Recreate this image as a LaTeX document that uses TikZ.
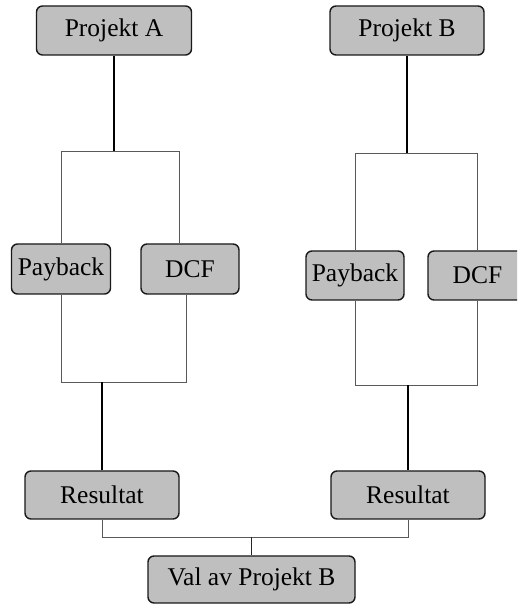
\documentclass[tikz,border=0pt]{standalone}
\usepackage{fontspec}
\setmainfont{Liberation Serif}
\newfontfamily\boxfont{Liberation Serif}
\begin{document}
\begin{tikzpicture}[x=1pt,y=1pt,
  box/.style={draw=black!90, line width=1.4pt, fill=black!25, rounded corners=6pt,
    inner sep=0pt, font=\boxfont\fontsize{25.5}{29}\selectfont, text=black},
  trunk/.style={draw=black, line width=1.5pt},
  branch/.style={draw=black!65, line width=0.9pt}]
\clip (0,0) rectangle (517,604);
\useasboundingbox (0,0) rectangle (517,604);

% boxes
\node[box, minimum width=155pt, minimum height=49pt] (projA) at (114,573.5) {Projekt A};
\node[box, minimum width=154pt, minimum height=49pt] (projB) at (407,573.5) {Projekt B};
\node[box, minimum width=99pt, minimum height=50pt] (payA) at (61,335) {Payback};
\node[box, minimum width=98pt, minimum height=50pt] (dcfA) at (190,335) {DCF};
\node[box, minimum width=98pt, minimum height=49pt] (payB) at (355,328.5) {Payback};
\node[box, minimum width=99pt, minimum height=49pt] (dcfB) at (477.5,328.5) {DCF};
\node[box, minimum width=154pt, minimum height=48pt] (resA) at (102,109) {Resultat};
\node[box, minimum width=154pt, minimum height=48pt] (resB) at (408,109) {Resultat};
\node[box, minimum width=207pt, minimum height=47pt] (val) at (251.5,24.5) {Val av Projekt B};

% junction points
\coordinate (jA) at (114,453);
\coordinate (jAl) at (61,453);
\coordinate (jAr) at (179,453);
\coordinate (kAl) at (61,222);
\coordinate (kAr) at (186,222);
\coordinate (kA) at (102,222);
\coordinate (jB) at (407,451);
\coordinate (jBl) at (355,451);
\coordinate (jBr) at (477,451);
\coordinate (kBl) at (355,219);
\coordinate (kBr) at (477,219);
\coordinate (kB) at (408,219);
\coordinate (mL) at (102,67);
\coordinate (mR) at (408,67);
\coordinate (m) at (251,67);

% project A
\draw[trunk] (projA.south) -- (jA);
\draw[branch] (payA.north) -- (jAl) -- (jAr) -- (dcfA.north -| jAr);
\draw[branch] (payA.south) -- (kAl) -- (kAr) -- (dcfA.south -| kAr);
\draw[trunk] (kA) -- (resA.north);

% project B
\draw[trunk] (projB.south) -- (jB);
\draw[branch] (payB.north) -- (jBl) -- (jBr) -- (dcfB.north -| jBr);
\draw[branch] (payB.south) -- (kBl) -- (kBr) -- (dcfB.south -| kBr);
\draw[trunk] (kB) -- (resB.north);

% decision
\draw[branch] (resA.south) -- (mL) -- (mR) -- (resB.south);
\draw[branch, draw=black!85] (m) -- (val.north -| m);
\end{tikzpicture}
\end{document}
